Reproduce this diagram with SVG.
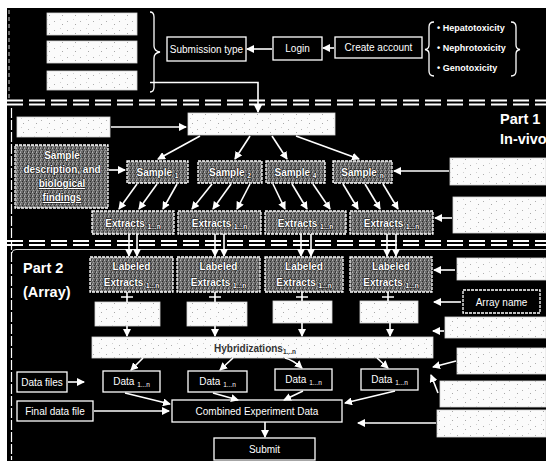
<svg xmlns="http://www.w3.org/2000/svg" width="546" height="465" viewBox="0 0 546 465">
  <defs>
    <!-- halftone grey fill used by the sample / extract boxes -->
    <pattern id="halftone" width="4" height="4" patternUnits="userSpaceOnUse">
      <rect width="4" height="4" fill="#6c6c6c"/>
      <rect x="0" y="0" width="1" height="1" fill="#b8b8b8"/>
      <rect x="2" y="1" width="1" height="1" fill="#2a2a2a"/>
      <rect x="1" y="2" width="1" height="1" fill="#a4a4a4"/>
      <rect x="3" y="3" width="1" height="1" fill="#333"/>
      <rect x="3" y="0" width="1" height="1" fill="#4a4a4a"/>
      <rect x="0" y="3" width="1" height="1" fill="#8f8f8f"/>
    </pattern>
    <!-- light speckled fill for the pale boxes -->
    <pattern id="speckle" width="13" height="9" patternUnits="userSpaceOnUse">
      <rect width="13" height="9" fill="#fbfbfb"/>
      <rect x="2" y="3" width="1" height="1" fill="#b0b0b0"/>
      <rect x="8" y="1" width="1" height="1" fill="#d0d0d0"/>
      <rect x="10" y="6" width="1" height="1" fill="#a8a8a8"/>
    </pattern>
    <marker id="ah" markerWidth="8" markerHeight="8" refX="7" refY="4" orient="auto" markerUnits="userSpaceOnUse">
      <path d="M0,0 L8,4 L0,8 Z" fill="#fff"/>
    </marker>
    <style>
      .bk { fill:#000; stroke:#fff; stroke-width:1.3; }
      .tx { fill:url(#halftone); stroke:#fff; stroke-width:1.3; stroke-dasharray:3 1; }
      .wb { fill:url(#speckle); stroke:#d8d8d8; stroke-width:0.8; }
      .ln { stroke:#fff; stroke-width:1.6; fill:none; }
      .arr { marker-end:url(#ah); }
      .sep { stroke:#fff; stroke-width:2; stroke-dasharray:16 6; fill:none; }
      .t { font-family:"Liberation Sans", Arial, sans-serif; font-size:10px; fill:#fff; text-anchor:middle; }
      .to { stroke:#111; stroke-width:1.1; paint-order:stroke; stroke-linejoin:round; }
      .b { font-weight:bold; }
      .sub { font-size:6.5px; }
      .big { font-family:"Liberation Sans", Arial, sans-serif; font-size:14.5px; font-weight:bold; fill:#fff; }
      .bul { font-family:"Liberation Sans", Arial, sans-serif; font-size:9px; font-weight:bold; fill:#fff; }
    </style>
  </defs>

  <!-- page and dark panel -->
  <rect width="546" height="465" fill="#fff"/>
  <rect x="7" y="8" width="539" height="453" fill="#000"/>

  <!-- section dividers and panel frame -->
  <g id="frame">
    <path class="sep" d="M7,100.5 H546 M7,104.5 H546"/>
    <path class="sep" d="M7,241 H546 M7,245 H546"/>
    <path d="M11.5,108 V460" stroke="#fff" stroke-width="1.2" stroke-dasharray="10 2" fill="none"/>
    <path d="M9,10 V98" stroke="#fff" stroke-width="0.8" stroke-dasharray="4 3" fill="none"/>
    <path d="M12,253 Q12,249.5 16,249.5 H546" stroke="#fff" stroke-width="1" fill="none" opacity="0.85"/>
  </g>

  <!-- submission area -->
  <g id="info-a"><rect class="wb" x="47" y="13" width="90" height="22"/></g>
  <g id="info-b"><rect class="wb" x="47" y="41" width="90" height="22"/></g>
  <g id="info-c"><rect class="wb" x="47" y="71" width="90" height="19"/></g>
  <g id="brace-info">
    <path d="M150,12 Q154,12 154,17 V46 Q154,51 160,52 Q154,53 154,58 V87 Q154,92 150,92" stroke="#fff" stroke-width="1.3" fill="none"/>
  </g>
  <g id="submission-type">
    <rect class="bk" x="167" y="37" width="79" height="24"/>
    <text class="t" x="206.5" y="53">Submission type</text>
  </g>
  <g id="login">
    <rect class="bk" x="273" y="37" width="49" height="23"/>
    <text class="t" x="297.5" y="52">Login</text>
  </g>
  <g id="create-account">
    <rect class="bk" x="335" y="37" width="87" height="21"/>
    <text class="t" x="378.5" y="51">Create account</text>
  </g>
  <g id="toxicity">
    <path d="M434,22 Q429,22 429,27 V45 Q429,49 425,49.5 Q429,50 429,54 V71 Q429,76 434,76" stroke="#fff" stroke-width="1.3" fill="none"/>
    <text class="bul" x="437" y="31">• Hepatotoxicity</text>
    <text class="bul" x="437" y="51">• Nephrotoxicity</text>
    <text class="bul" x="437" y="71">• Genotoxicity</text>
    <path d="M511,22 Q516,22 516,27 V45 Q516,49 520,49.5 Q516,50 516,54 V71 Q516,76 511,76" stroke="#fff" stroke-width="1.3" fill="none"/>
  </g>

  <!-- part 1 -->
  <g id="info-d"><rect class="wb" x="17" y="117" width="93" height="20"/></g>
  <g id="study"><rect class="wb" x="188" y="113" width="147" height="22"/></g>
  <g id="part1-label">
    <text class="big" x="500" y="124">Part 1</text>
    <text class="big" x="500" y="144">In-vivo</text>
  </g>
  <g id="sample-description">
    <rect class="tx" x="15" y="145" width="93" height="63"/>
    <text class="t to b" x="62" y="159">Sample</text>
    <text class="t to b" x="62" y="173" font-size="9.5">description, and</text>
    <text class="t to b" x="62" y="187" text-decoration="underline">biological</text>
    <text class="t to b" x="62" y="201" text-decoration="underline">findings</text>
  </g>
  <g id="sample-1">
    <rect class="tx" x="127" y="161" width="61" height="22"/>
    <text class="t to b" x="157.5" y="176" font-size="10.5">Sample <tspan class="sub" dy="2">1</tspan></text>
  </g>
  <g id="sample-2">
    <rect class="tx" x="198" y="161" width="64" height="22"/>
    <text class="t to b" x="230" y="176" font-size="10.5">Sample <tspan class="sub" dy="2">2</tspan></text>
  </g>
  <g id="sample-3">
    <rect class="tx" x="266" y="161" width="59" height="22"/>
    <text class="t to b" x="295.5" y="176" font-size="10.5">Sample <tspan class="sub" dy="2">4</tspan></text>
  </g>
  <g id="sample-n">
    <rect class="tx" x="333" y="161" width="59" height="22"/>
    <text class="t to b" x="362.5" y="176" font-size="10.5">Sample <tspan class="sub" dy="2">n</tspan></text>
  </g>
  <g id="info-e"><rect class="wb" x="450" y="158" width="96" height="27"/></g>
  <g id="extracts-1">
    <rect class="tx" x="92" y="211" width="82" height="23"/>
    <text class="t to b" x="133" y="226.5">Extracts <tspan class="sub" dy="2">1...n</tspan></text>
  </g>
  <g id="extracts-2">
    <rect class="tx" x="178" y="211" width="83" height="23"/>
    <text class="t to b" x="219.5" y="226.5">Extracts <tspan class="sub" dy="2">1...n</tspan></text>
  </g>
  <g id="extracts-3">
    <rect class="tx" x="265" y="211" width="81" height="23"/>
    <text class="t to b" x="305.5" y="226.5">Extracts <tspan class="sub" dy="2">1...n</tspan></text>
  </g>
  <g id="extracts-n">
    <rect class="tx" x="350" y="211" width="83" height="23"/>
    <text class="t to b" x="391.5" y="226.5">Extracts <tspan class="sub" dy="2">1...n</tspan></text>
  </g>
  <g id="info-f"><rect class="wb" x="453" y="197" width="93" height="36"/></g>

  <!-- part 2 -->
  <g id="part2-label">
    <text class="big" x="23" y="273">Part 2</text>
    <text class="big" x="23" y="297">(Array)</text>
  </g>
  <g id="labeled-1">
    <rect class="tx" x="90" y="257" width="83" height="35"/>
    <text class="t to b" x="131.5" y="270">Labeled</text>
    <text class="t to b" x="131.5" y="286">Extracts <tspan class="sub" dy="2">1...n</tspan></text>
  </g>
  <g id="labeled-2">
    <rect class="tx" x="177" y="257" width="83" height="35"/>
    <text class="t to b" x="218.5" y="270">Labeled</text>
    <text class="t to b" x="218.5" y="286">Extracts <tspan class="sub" dy="2">1...n</tspan></text>
  </g>
  <g id="labeled-3">
    <rect class="tx" x="265" y="257" width="78" height="35"/>
    <text class="t to b" x="304" y="270">Labeled</text>
    <text class="t to b" x="304" y="286">Extracts <tspan class="sub" dy="2">1...n</tspan></text>
  </g>
  <g id="labeled-n">
    <rect class="tx" x="350" y="257" width="82" height="35"/>
    <text class="t to b" x="391" y="270">Labeled</text>
    <text class="t to b" x="391" y="286">Extracts <tspan class="sub" dy="2">1...n</tspan></text>
  </g>
  <g id="info-g"><rect class="wb" x="457" y="258" width="89" height="22"/></g>
  <g id="array-name">
    <rect class="bk" x="463" y="290" width="77" height="23" stroke-dasharray="3 1"/>
    <text class="t" x="501.5" y="305.5">Array name</text>
  </g>
  <g id="info-h"><rect class="wb" x="445" y="317" width="101" height="21"/></g>
  <g id="array-1"><rect class="wb" x="95" y="302" width="65" height="24"/></g>
  <g id="array-2"><rect class="wb" x="187" y="302" width="60" height="24"/></g>
  <g id="array-3"><rect class="wb" x="273" y="301" width="59" height="22"/></g>
  <g id="array-n"><rect class="wb" x="360" y="301" width="58" height="22"/></g>
  <g id="hybridizations">
    <rect class="wb" x="92" y="337" width="341" height="21"/>
    <text class="t b" x="255" y="352" font-size="10.5" style="fill:#333">Hybridizations<tspan class="sub" dy="2">1...n</tspan></text>
  </g>
  <g id="info-i"><rect class="wb" x="457" y="348" width="89" height="26"/></g>
  <g id="info-j"><rect class="wb" x="440" y="381" width="106" height="26"/></g>
  <g id="info-k"><rect class="wb" x="437" y="410" width="109" height="27"/></g>
  <g id="data-files">
    <rect class="bk" x="17" y="372" width="50" height="20"/>
    <text class="t" x="42" y="385.5" font-size="9.5">Data files</text>
  </g>
  <g id="data-1">
    <rect class="bk" x="103" y="371" width="57" height="21"/>
    <text class="t" x="131.5" y="385">Data <tspan class="sub" dy="2">1...n</tspan></text>
  </g>
  <g id="data-2">
    <rect class="bk" x="188" y="371" width="59" height="21"/>
    <text class="t" x="217.5" y="385">Data <tspan class="sub" dy="2">1...n</tspan></text>
  </g>
  <g id="data-3">
    <rect class="bk" x="275" y="369" width="57" height="21"/>
    <text class="t" x="303.5" y="383">Data <tspan class="sub" dy="2">1...n</tspan></text>
  </g>
  <g id="data-n">
    <rect class="bk" x="361" y="369" width="57" height="21"/>
    <text class="t" x="389.5" y="383">Data <tspan class="sub" dy="2">1...n</tspan></text>
  </g>
  <g id="final-data-file">
    <rect class="bk" x="17" y="401" width="76" height="20"/>
    <text class="t" x="55" y="414.5" font-size="9.5">Final data file</text>
  </g>
  <g id="combined">
    <rect class="bk" x="172" y="400" width="170" height="22"/>
    <text class="t" x="257" y="415">Combined Experiment Data</text>
  </g>
  <g id="submit">
    <rect class="bk" x="214" y="438" width="101" height="22"/>
    <text class="t" x="264.5" y="453">Submit</text>
  </g>

  <!-- connectors -->
  <g id="connectors">
    <path class="ln arr" d="M272,49 H247"/>
    <path class="ln arr" d="M334,48 H323"/>
    <path class="ln arr" d="M150,82.5 H258 V112"/>
    <path class="ln arr" d="M111,127 H186"/>
    <path class="ln arr" d="M200,136 L158,159"/>
    <path class="ln arr" d="M250,136 L235,159"/>
    <path class="ln arr" d="M272,136 L287,159"/>
    <path class="ln arr" d="M296,136 L359,159"/>
    <path class="ln arr" d="M109,170 H125"/>
    <path class="ln arr" d="M449,171 H394"/>
    <path class="ln arr" d="M137,184 L119,209"/>
    <path class="ln arr" d="M157,184 L139,209"/>
    <path class="ln arr" d="M177,184 L163,209"/>
    <path class="ln arr" d="M212,184 L192,209"/>
    <path class="ln arr" d="M231,184 L213,209"/>
    <path class="ln arr" d="M250,184 L237,209"/>
    <path class="ln arr" d="M273,184 L285,209"/>
    <path class="ln arr" d="M292,184 L307,209"/>
    <path class="ln arr" d="M313,184 L330,209"/>
    <path class="ln arr" d="M343,184 L358,209"/>
    <path class="ln arr" d="M365,184 L380,209"/>
    <path class="ln arr" d="M383,184 L398,209"/>
    <path class="ln arr" d="M452,218 H435"/>
    <path class="ln arr" d="M129,234 V256"/>
    <path class="ln arr" d="M137,234 V256"/>
    <path class="ln arr" d="M215,234 V256"/>
    <path class="ln arr" d="M224,234 V256"/>
    <path class="ln arr" d="M301,234 V256"/>
    <path class="ln arr" d="M311,234 V256"/>
    <path class="ln arr" d="M387,234 V256"/>
    <path class="ln arr" d="M396,234 V256"/>
    <path class="ln arr" d="M455,270 H434"/>
    <path class="ln arr" d="M461,302 H434"/>
    <path class="ln arr" d="M444,331 H433"/>
    <path class="ln" d="M127,292 V302 M121,297 H133"/>
    <path class="ln" d="M215,292 V302 M209,297 H221"/>
    <path class="ln" d="M302,292 V301 M296,297 H308"/>
    <path class="ln" d="M388,292 V301 M382,297 H394"/>
    <path class="ln arr" d="M127,326 V336"/>
    <path class="ln arr" d="M215,326 V336"/>
    <path class="ln arr" d="M302,323 V336"/>
    <path class="ln arr" d="M390,323 V336"/>
    <path class="ln arr" d="M143,358 L131,370"/>
    <path class="ln arr" d="M233,358 L220,370"/>
    <path class="ln arr" d="M285,358 Q293,360 302,368"/>
    <path class="ln arr" d="M377,358 L388,368"/>
    <path class="ln arr" d="M456,361 L433,367"/>
    <path class="ln arr" d="M438,393 L431,375"/>
    <path class="ln arr" d="M436,423 H358"/>
    <path class="ln arr" d="M68,382 H84"/>
    <path class="ln arr" d="M125,393 L170,404"/>
    <path class="ln arr" d="M213,393 L238,400"/>
    <path class="ln arr" d="M303,391 L284,400"/>
    <path class="ln arr" d="M395,391 L345,403"/>
    <path class="ln arr" d="M94,411 H169"/>
    <path class="ln arr" d="M265,422 V437"/>
  </g>
</svg>
